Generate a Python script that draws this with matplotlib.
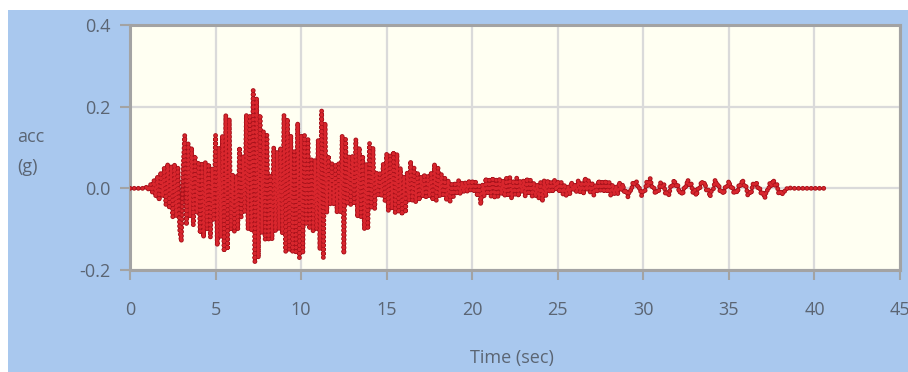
import numpy as np
import matplotlib
matplotlib.use("Agg")
import matplotlib.pyplot as plt
from matplotlib.patches import Rectangle

# ground acceleration (g), every 0.1 s from t = 0 (one row per second)
time_step = 0.1
acc = [
    0.0, 0.0, 0.0, 0.0, 0.0, 0.0, 0.0, 0.0, 0.0, 0.0,
    0.005, -0.005, 0.01, -0.01, 0.02, -0.02, 0.03, -0.03, 0.04, -0.02,
    0.05, -0.04, 0.06, -0.05, 0.055, -0.07, 0.06, -0.07, 0.05, -0.10,
    -0.13, 0.05, 0.13, -0.09, 0.11, -0.07, 0.10, -0.09, 0.08, -0.06,
    0.065, -0.11, 0.06, -0.12, 0.065, -0.10, 0.06, -0.12, 0.05, -0.08,
    0.13, -0.14, 0.10, -0.12, 0.13, -0.155, 0.18, -0.15, 0.17, -0.10,
    0.035, -0.105, 0.03, -0.10, 0.10, -0.07, 0.08, -0.06, 0.18, -0.10,
    0.18, -0.105, 0.24, -0.18, 0.22, -0.17, 0.18, -0.11, 0.14, -0.125,
    0.13, -0.125, 0.03, -0.125, 0.10, -0.105, 0.09, -0.10, 0.10, -0.11,
    0.18, -0.155, 0.17, -0.15, 0.13, -0.155, 0.09, -0.16, 0.16, -0.17,
    0.13, -0.16, 0.13, -0.09, 0.12, -0.10, 0.07, -0.105, 0.07, -0.10,
    0.12, -0.15, 0.19, -0.17, 0.16, -0.06, 0.08, -0.04, 0.06, -0.04,
    0.06, -0.06, 0.06, -0.06, 0.13, -0.16, 0.12, -0.04, 0.08, -0.04,
    0.08, -0.04, 0.12, -0.07, 0.10, -0.07, 0.08, -0.10, 0.06, -0.10,
    0.11, -0.05, 0.10, -0.05, 0.04, -0.02, 0.04, -0.02, 0.06, -0.03,
    0.085, -0.055, 0.08, -0.05, 0.09, -0.06, 0.085, -0.06, 0.05, -0.065,
    0.03, -0.06, 0.04, -0.03, 0.067, -0.03, 0.05, -0.035, 0.04, -0.03,
    0.03, -0.02, 0.035, -0.025, 0.03, -0.02, 0.04, -0.03, 0.06, -0.03,
    0.05, -0.02, 0.035, -0.02, 0.025, -0.03, 0.02, -0.035, 0.01, -0.02,
    0.015, -0.015, 0.02, -0.015, 0.015, -0.01, 0.015, -0.01, 0.02, -0.005,
    0.02, -0.01, 0.015, -0.02, 0.01, -0.04, 0.01, -0.02, 0.025, -0.015,
    0.02, -0.02, 0.027, -0.025, 0.02, -0.02, 0.025, -0.015, 0.02, -0.02,
    0.025, -0.02, 0.027, -0.025, 0.02, -0.015, 0.025, -0.02, 0.02, -0.01,
    0.02, -0.02, 0.025, -0.015, 0.02, -0.02, 0.015, -0.02, 0.01, -0.025,
    0.015, -0.032, 0.02, -0.02, 0.02, -0.01, 0.015, -0.01, 0.022, -0.005,
    0.018, -0.01, 0.015, -0.015, 0.01, -0.02, 0.005, -0.015, 0.015, -0.005,
    0.01, -0.01, 0.02, -0.01, 0.015, -0.015, 0.026, -0.005, 0.02, -0.01,
    0.015, -0.018, 0.01, -0.01, 0.02, -0.005, 0.015, -0.01, 0.02, -0.01,
    0.015, -0.02, 0.01, -0.015, 0.005, -0.015, 0.015, -0.005, 0.01, -0.012,
    -0.004, -0.021, -0.004, -0.006, 0.016, 0.009, 0.016, -0.001, 0.001, -0.018,
    -0.004, -0.006, 0.016, 0.006, 0.024, 0.004, 0.006, -0.014, -0.004, -0.006,
    0.014, 0.004, 0.011, -0.016, -0.009, -0.016, 0.006, 0.004, 0.021, 0.006,
    0.011, -0.011, -0.006, -0.016, 0.006, 0.004, 0.021, 0.006, 0.011, -0.011,
    -0.004, -0.018, 0.001, -0.001, 0.018, 0.009, 0.014, -0.008, -0.004, -0.021,
    -0.002, -0.001, 0.021, 0.006, 0.011, -0.011, -0.004, -0.014, 0.006, 0.004,
    0.018, 0.002, 0.006, -0.014, -0.004, -0.011, 0.011, 0.006, 0.021, 0.004,
    0.006, -0.016, -0.009, -0.014, 0.011, 0.006, 0.016, -0.001, 0.001, -0.016,
    -0.009, -0.024, -0.004, -0.006, 0.014, 0.006, 0.021, 0.006, 0.011, -0.011,
    -0.006, -0.016, -0.006, -0.008, 0.0, -0.002, 0.001, 0.0, 0.0, 0.0,
    0.0, 0.0, 0.0, 0.0, 0.0, 0.0, 0.0, 0.0, 0.0, 0.0,
    0.0, 0.0, 0.0, 0.0, 0.0, 0.0, 0.0,
]
x_ticks = [0, 5, 10, 15, 20, 25, 30, 35, 40, 45]
y_ticks = [-0.2, 0.0, 0.2, 0.4]

t = np.arange(len(acc)) * time_step

plt.rcParams["font.family"] = ["Open Sans", "DejaVu Sans"]
plt.rcParams["lines.scale_dashes"] = False

fig = plt.figure(figsize=(9.08, 3.72), dpi=100, facecolor="white")
fig.patches.append(Rectangle((8 / 908, 0), 1, 1 - 10 / 372, transform=fig.transFigure,
                             facecolor="#a9c8ee", edgecolor="none", zorder=-10))

ax = fig.add_axes([130 / 908, 102 / 372, 770 / 908, 245 / 372])
ax.set_facecolor("#fffff2")

# dotted trace: dark rim + brighter core
ax.plot(t, acc, color="#a8121b", lw=3.5, linestyle=(0, (0.01, 3.0)),
        dash_capstyle="round", zorder=3)
ax.plot(t, acc, color="#d8262d", lw=2.2, linestyle=(0, (0.01, 3.0)),
        dash_capstyle="round", zorder=4)

ax.set_xlim(0, 45)
ax.set_ylim(-0.2, 0.4)
ax.set_xticks(x_ticks)
ax.set_yticks(y_ticks)
ax.set_yticklabels([f"{v:.1f}" for v in y_ticks])
ax.grid(True, color="#dadada", lw=1.6)
ax.set_axisbelow(True)

for s in ax.spines.values():
    s.set_color("#a3a3a3")
    s.set_linewidth(2.2)

ax.tick_params(axis="both", colors="#a3a3a3", labelcolor="#5b6573",
               labelsize=13, length=7, width=1.5)
ax.tick_params(axis="x", pad=15)
ax.tick_params(axis="y", pad=7)

fig.text(17 / 908, 1 - 137 / 372, "acc", fontsize=13, color="#5b6573", va="center")
fig.text(17 / 908, 1 - 167 / 372, "(g)", fontsize=13, color="#5b6573", va="center")
fig.text(512 / 908, 1 - 358 / 372, "Time (sec)", fontsize=13, color="#5b6573",
         ha="center", va="center")

fig.savefig("out.png", dpi=100, facecolor=fig.get_facecolor())
